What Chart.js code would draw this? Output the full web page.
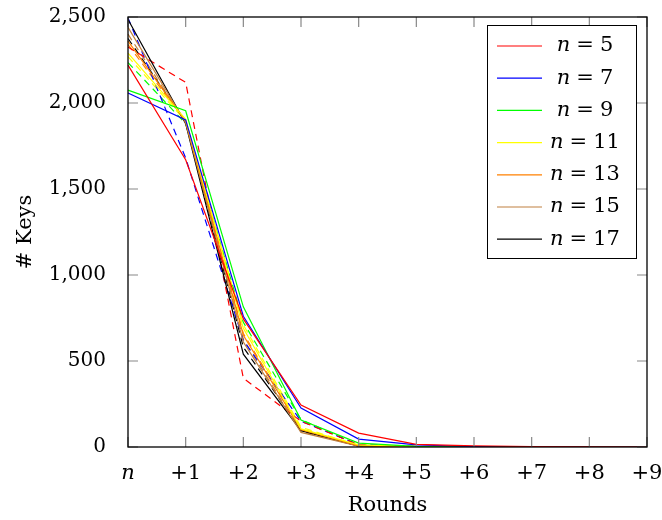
<!DOCTYPE html>
<html>
<head>
<meta charset="utf-8">
<script src="https://cdn.jsdelivr.net/npm/chart.js@4.4.1/dist/chart.umd.min.js"></script>
<style>
  body { margin: 0; background: #fff; }
  #wrap { width: 662px; height: 520px; }
</style>
</head>
<body>
<div id="wrap"><canvas id="grafico" width="662" height="520"></canvas></div>
<script>
var rondas = ["n", "+1", "+2", "+3", "+4", "+5", "+6", "+7", "+8", "+9"];
var ticksY = [0, 500, 1000, 1500, 2000, 2500];

// lineas continuas
var n5  = [2220, 1670, 745, 244, 81, 15, 6, 2, 1, 0];
var n7  = [2058, 1902, 760, 227, 46, 12, 3, 1, 0, 0];
var n9  = [2075, 1955, 815, 157, 23, 4, 1, 0, 0, 0];
var n11 = [2290, 1905, 690, 105, 12, 2, 0, 0, 0, 0];
var n13 = [2360, 1895, 650, 100, 8, 1, 0, 0, 0, 0];
var n15 = [2440, 1885, 610, 85, 5, 1, 0, 0, 0, 0];
var n17 = [2485, 1880, 540, 95, 6, 1, 0, 0, 0, 0];

// lineas discontinuas
var d5  = [2325, 2120, 400, 150, 12, 3, 1, 0, 0, 0];
var d7  = [2495, 1680, 620, 150, 14, 3, 1, 0, 0, 0];
var d9  = [2235, 1880, 725, 160, 10, 2, 0, 0, 0, 0];
var d11 = [2270, 1895, 710, 115, 8, 1, 0, 0, 0, 0];
var d13 = [2340, 1890, 660, 105, 6, 1, 0, 0, 0, 0];
var d15 = [2400, 1885, 625, 90, 5, 1, 0, 0, 0, 0];
var d17 = [2375, 1890, 580, 100, 5, 1, 0, 0, 0, 0];

var etiquetas = ["5", "7", "9", "11", "13", "15", "17"];
var colores = ["#ff0000", "#0000ff", "#00ff00", "#ffff00", "#ff8000", "#bf8040", "#000000"];
var continuas = [n5, n7, n9, n11, n13, n15, n17];
var discontinuas = [d5, d7, d9, d11, d13, d15, d17];

var fuente = "'DejaVu Serif', serif";

var datasets = [];
for (let i = 0; i < continuas.length; i++) {
  datasets.push({
    label: "n = " + etiquetas[i],
    data: continuas[i],
    borderColor: colores[i],
    borderWidth: 1.2,
    pointRadius: 0,
    fill: false,
    tension: 0
  });
}
for (let i = 0; i < discontinuas.length; i++) {
  datasets.push({
    label: "dashed " + etiquetas[i],
    data: discontinuas[i],
    borderColor: colores[i],
    borderWidth: 1.2,
    borderDash: [7, 5],
    pointRadius: 0,
    fill: false,
    tension: 0
  });
}

// marco, marcas hacia dentro y leyenda
var marcoPlugin = {
  id: "marco",
  afterDraw: function(chart) {
    var ctx = chart.ctx;
    var a = chart.chartArea;
    var x = chart.scales.x;
    var y = chart.scales.y;
    var largo = 10;
    ctx.save();
    ctx.strokeStyle = "#888888";
    ctx.lineWidth = 1.2;
    ctx.beginPath();
    for (let i = 0; i < rondas.length; i++) {
      var px = x.getPixelForValue(i);
      ctx.moveTo(px, a.bottom); ctx.lineTo(px, a.bottom - largo);
      ctx.moveTo(px, a.top); ctx.lineTo(px, a.top + largo);
    }
    for (let i = 0; i < ticksY.length; i++) {
      var py = y.getPixelForValue(ticksY[i]);
      ctx.moveTo(a.left, py); ctx.lineTo(a.left + largo, py);
      ctx.moveTo(a.right, py); ctx.lineTo(a.right - largo, py);
    }
    ctx.stroke();
    ctx.strokeStyle = "#000000";
    ctx.lineWidth = 1.3;
    ctx.strokeRect(a.left, a.top, a.right - a.left, a.bottom - a.top);

    // leyenda
    var lx = a.right - 160, ly = a.top + 8, lw = 149, lh = 233;
    ctx.fillStyle = "#ffffff";
    ctx.fillRect(lx, ly, lw, lh);
    ctx.lineWidth = 1;
    ctx.strokeRect(lx + 0.5, ly + 0.5, lw, lh);
    for (let i = 0; i < etiquetas.length; i++) {
      var fy = ly + 21 + i * 32.2;
      ctx.strokeStyle = colores[i];
      ctx.lineWidth = 1.2;
      ctx.beginPath();
      ctx.moveTo(lx + 10, fy); ctx.lineTo(lx + 55, fy);
      ctx.stroke();
      ctx.fillStyle = "#000000";
      ctx.textBaseline = "middle";
      ctx.font = "italic 21px " + fuente;
      var wn = ctx.measureText("n").width;
      ctx.font = "21px " + fuente;
      var we = ctx.measureText("=").width;
      var wnum = ctx.measureText(etiquetas[i]).width;
      var hueco = 6;
      var total = wn + hueco + we + hueco + wnum;
      var cx = lx + 98 - total / 2;
      ctx.font = "italic 21px " + fuente;
      ctx.fillText("n", cx, fy);
      ctx.font = "21px " + fuente;
      ctx.fillText("=", cx + wn + hueco, fy);
      ctx.fillText(etiquetas[i], cx + wn + hueco + we + hueco, fy);
    }
    ctx.restore();
  }
};

new Chart("grafico", {
  type: "line",
  data: {
    labels: rondas,
    datasets: datasets
  },
  options: {
    responsive: false,
    animation: false,
    layout: { padding: { top: 17, right: 15, left: 0, bottom: 0 } },
    plugins: {
      legend: { display: false },
      tooltip: { enabled: false }
    },
    scales: {
      x: {
        type: "category",
        offset: false,
        grid: { display: false },
        border: { display: false },
        ticks: {
          color: "#000",
          padding: 6,
          maxRotation: 0,
          autoSkip: false,
          font: function(c) {
            if (c.index === 0) { return { family: fuente, size: 21, style: "italic" }; }
            return { family: fuente, size: 21 };
          }
        },
        title: {
          display: true,
          text: "Rounds",
          color: "#000",
          font: { family: fuente, size: 21 },
          padding: { top: 0, bottom: 2 }
        },
        afterFit: function(s) { s.height = 73; s.paddingLeft = 0; s.paddingRight = 0; }
      },
      y: {
        min: 0,
        max: 2500,
        grid: { display: false },
        border: { display: false },
        ticks: {
          stepSize: 500,
          color: "#000",
          padding: 14,
          font: { family: fuente, size: 20 },
          callback: function(v) { return v.toLocaleString("en-US"); }
        },
        title: {
          display: true,
          text: "# Keys",
          color: "#000",
          font: { family: fuente, size: 21 },
          padding: { top: 13, bottom: 0 }
        },
        afterFit: function(s) { s.width = 128; s.paddingTop = 0; s.paddingBottom = 0; }
      }
    }
  },
  plugins: [marcoPlugin]
});
</script>
</body>
</html>
